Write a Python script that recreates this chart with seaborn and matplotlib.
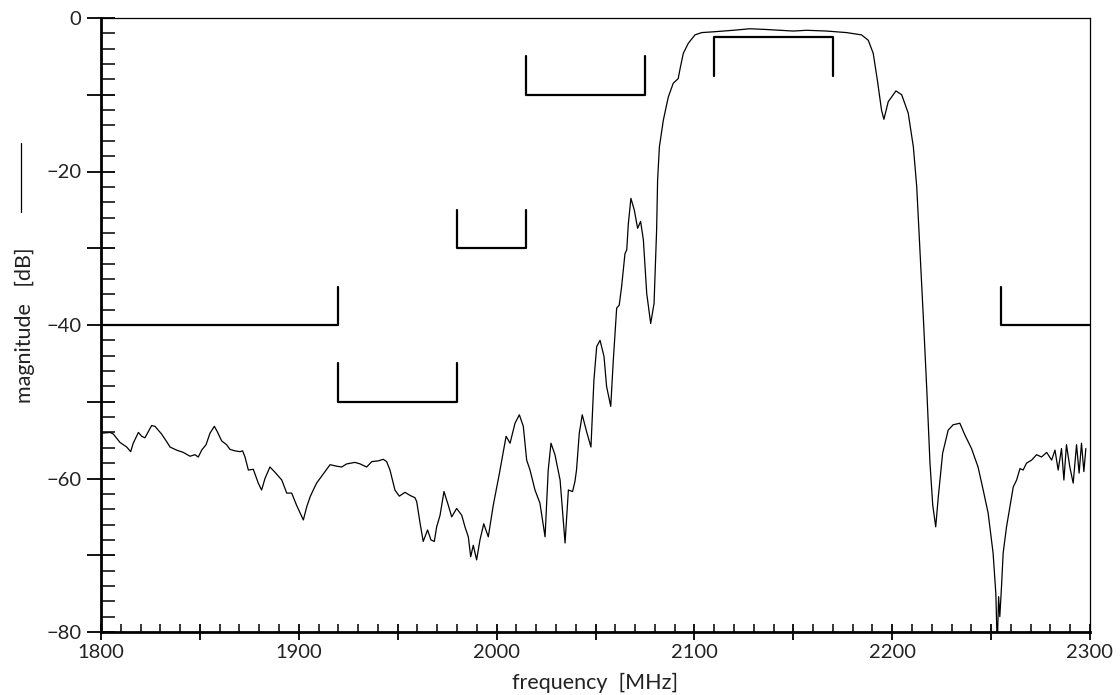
import numpy as np
import pandas as pd
import matplotlib
matplotlib.use("Agg")
import matplotlib.pyplot as plt
from matplotlib.lines import Line2D
from matplotlib.ticker import MultipleLocator, FuncFormatter
import seaborn as sns

# ---- data ----
freq_mhz = [
    1800.3, 1804.6, 1806.2, 1809.6, 1813.0, 1815.0, 1816.3, 1818.9, 1820.6, 1822.2,
    1825.6, 1827.3, 1830.6, 1833.2, 1834.9, 1838.2, 1841.6, 1845.0, 1847.5, 1849.2,
    1850.9, 1853.1, 1855.1, 1857.3, 1858.8, 1861.0, 1863.5, 1865.2, 1867.7, 1870.3,
    1871.6, 1872.8, 1874.5, 1877.0, 1879.5, 1881.2, 1882.9, 1885.4, 1888.0, 1891.4,
    1893.9, 1896.4, 1898.9, 1902.3, 1904.0, 1905.7, 1907.3, 1909.0, 1910.7, 1913.2,
    1915.8, 1919.2, 1921.7, 1924.2, 1928.4, 1931.0, 1934.3, 1936.9, 1940.2, 1942.7,
    1944.4, 1946.1, 1948.6, 1950.8, 1953.7, 1956.2, 1958.7, 1959.6, 1961.3, 1962.9,
    1965.1, 1966.8, 1968.5, 1969.7, 1971.4, 1973.4, 1975.6, 1977.3, 1979.8, 1982.4,
    1984.0, 1985.7, 1986.9, 1988.2, 1989.9, 1991.6, 1993.5, 1995.8, 1998.3, 2001.3,
    2004.8, 2006.8, 2009.3, 2011.5, 2013.5, 2015.2, 2016.9, 2019.4, 2021.9, 2024.5,
    2026.1, 2027.5, 2029.5, 2032.1, 2034.6, 2036.3, 2038.4, 2039.6, 2040.4, 2041.8,
    2043.3, 2045.5, 2047.7, 2049.2, 2050.6, 2052.3, 2054.3, 2055.6, 2057.7, 2059.0,
    2060.7, 2062.0, 2063.2, 2064.9, 2065.8, 2066.6, 2067.9, 2069.6, 2071.3, 2072.8,
    2074.2, 2075.9, 2077.9, 2079.6, 2080.9, 2081.4, 2082.3, 2084.3, 2086.8, 2089.3,
    2091.8, 2093.0, 2094.4, 2096.9, 2100.3, 2103.7, 2109.6, 2119.7, 2128.1, 2136.5,
    2143.3, 2150.0, 2156.7, 2166.8, 2176.9, 2184.5, 2187.9, 2190.4, 2192.5, 2194.6,
    2195.8, 2198.0, 2201.9, 2204.8, 2208.1, 2210.7, 2212.4, 2214.1, 2215.8, 2217.5,
    2219.1, 2220.5, 2222.0, 2223.3, 2225.5, 2228.3, 2230.8, 2234.2, 2236.7, 2240.1,
    2243.4, 2246.0, 2248.5, 2251.0, 2252.4, 2253.1, 2253.8, 2254.4, 2255.3, 2256.1,
    2257.8, 2259.5, 2261.2, 2262.9, 2264.6, 2266.2, 2267.9, 2270.5, 2273.0, 2275.5,
    2278.1, 2280.6, 2282.3, 2283.9, 2285.6, 2286.8, 2288.1, 2289.8, 2291.5, 2293.2,
    2294.5, 2295.7, 2296.9, 2297.9,
]
magnitude_db = [
    -54.1, -54.0, -54.2, -55.3, -55.9, -56.5, -55.4, -54.0, -54.5, -54.7,
    -53.1, -53.2, -54.2, -55.2, -55.9, -56.3, -56.6, -57.1, -56.9, -57.2,
    -56.3, -55.6, -54.1, -53.2, -53.9, -55.1, -55.6, -56.2, -56.4, -56.5,
    -56.4, -57.2, -58.9, -58.8, -60.6, -61.5, -60.0, -58.5, -59.2, -60.2,
    -61.9, -61.9, -63.5, -65.4, -63.7, -62.4, -61.5, -60.6, -60.0, -59.1,
    -58.2, -58.4, -58.5, -58.1, -57.9, -58.1, -58.5, -57.8, -57.7, -57.5,
    -57.8, -58.9, -61.5, -62.3, -61.8, -62.2, -62.5, -63.0, -65.8, -68.2,
    -66.7, -68.0, -68.2, -66.3, -64.8, -61.7, -63.5, -65.0, -63.9, -64.8,
    -66.3, -67.6, -70.2, -68.7, -70.6, -68.0, -65.9, -67.6, -63.5, -59.5,
    -54.5, -55.4, -52.8, -51.7, -53.2, -57.6, -58.9, -61.5, -63.2, -67.6,
    -58.9, -55.4, -56.9, -60.2, -68.4, -61.5, -61.7, -60.4, -58.9, -54.1,
    -51.7, -53.9, -55.9, -47.2, -42.8, -42.0, -44.1, -48.0, -50.6, -44.6,
    -37.8, -37.4, -35.0, -30.7, -30.2, -26.8, -23.5, -25.0, -27.4, -26.5,
    -28.9, -35.9, -39.8, -37.2, -27.6, -21.1, -16.8, -13.3, -10.3, -8.5,
    -7.9, -6.3, -4.6, -3.3, -2.2, -1.9, -1.8, -1.6, -1.4, -1.5,
    -1.6, -1.7, -1.6, -1.7, -1.9, -2.2, -2.9, -4.6, -8.1, -12.0,
    -13.2, -10.9, -9.5, -10.0, -12.4, -16.8, -22.0, -30.7, -39.3, -48.5,
    -58.0, -63.5, -66.3, -62.4, -56.7, -53.7, -53.0, -52.8, -54.3, -56.1,
    -58.5, -61.5, -64.5, -69.7, -75.0, -82.0, -75.4, -78.0, -73.9, -69.7,
    -66.3, -63.7, -61.1, -60.2, -58.7, -58.9, -58.0, -57.6, -56.9, -57.2,
    -56.6, -57.6, -56.3, -58.9, -56.1, -60.2, -55.6, -58.5, -60.6, -55.6,
    -59.3, -55.4, -59.1, -56.1,
]

# specification mask segments: start, end, level, flag direction (dB)
mask_f_start = [1800, 1920, 1980, 2015, 2110, 2255]
mask_f_end = [1920, 1980, 2015, 2075, 2170, 2300]
mask_level = [-40, -50, -30, -10, -2.5, -40]
mask_flag = [5, 5, 5, 5, -5, 5]

x_min, x_max = 1800, 2300
y_min, y_max = -80, 0

# ---- figure ----
sns.set_style("ticks")
plt.rcParams["font.family"] = ["Lato", "DejaVu Sans"]
plt.rcParams["font.weight"] = "normal"

fig = plt.figure(figsize=(11.2, 6.95), dpi=100)
ax = fig.add_axes([101 / 1120, 1 - 632 / 695, (1090 - 101) / 1120, (632 - 18) / 695])

df = pd.DataFrame({"f": freq_mhz, "m": magnitude_db})
sns.lineplot(data=df, x="f", y="m", ax=ax, color="black", linewidth=0.9,
             sort=False, estimator=None)

for fs, fe, lv, fl in zip(mask_f_start, mask_f_end, mask_level, mask_flag):
    xs, ys = [], []
    if fs > x_min:
        xs.append(fs); ys.append(lv + fl)
    xs += [fs, fe]; ys += [lv, lv]
    if fe < x_max:
        xs.append(fe); ys.append(lv + fl)
    seg = pd.DataFrame({"f": xs, "m": ys})
    sns.lineplot(data=seg, x="f", y="m", ax=ax, color="black", linewidth=1.6,
                 sort=False, estimator=None)

ax.set_xlim(x_min, x_max)
ax.set_ylim(y_min, y_max)

for side in ["top", "right"]:
    ax.spines[side].set_visible(True)
    ax.spines[side].set_linewidth(0.9)
for side in ["left", "bottom"]:
    ax.spines[side].set_linewidth(2.0)
for s in ax.spines.values():
    s.set_color("black")

ax.xaxis.set_major_locator(MultipleLocator(50))
ax.xaxis.set_minor_locator(MultipleLocator(10))
ax.yaxis.set_major_locator(MultipleLocator(10))
ax.yaxis.set_minor_locator(MultipleLocator(2))
ax.xaxis.set_major_formatter(FuncFormatter(lambda v, p: f"{v:.0f}" if round(v) % 100 == 0 else ""))
ax.yaxis.set_major_formatter(FuncFormatter(lambda v, p: (f"{v:.0f}".replace("-", "\u2212")) if round(v) % 20 == 0 else ""))

ax.tick_params(axis="x", which="major", direction="inout", length=12, width=1.3,
               labelsize=14.5, pad=3, colors="black", labelcolor="#222222")
ax.tick_params(axis="x", which="minor", direction="in", length=6, width=1.1, colors="black")
ax.tick_params(axis="y", which="major", direction="inout", length=20, width=1.3,
               labelsize=14.5, pad=4, colors="black", labelcolor="#222222")
ax.tick_params(axis="y", which="minor", direction="in", length=10, width=1.1, colors="black")
for lbl in ax.get_xticklabels() + ax.get_yticklabels():
    lbl.set_fontweight("normal")

ax.set_xlabel("frequency  [MHz]", fontsize=15.5, color="#222222", labelpad=8)
ax.set_ylabel("magnitude   [dB]", fontsize=15.5, color="#222222", labelpad=8)

# line symbol beside the y label
fig.add_artist(Line2D([21 / 1120, 21 / 1120], [1 - 212 / 695, 1 - 143 / 695],
                      transform=fig.transFigure, color="black", linewidth=0.9))

fig.savefig("out.png", dpi=100)
